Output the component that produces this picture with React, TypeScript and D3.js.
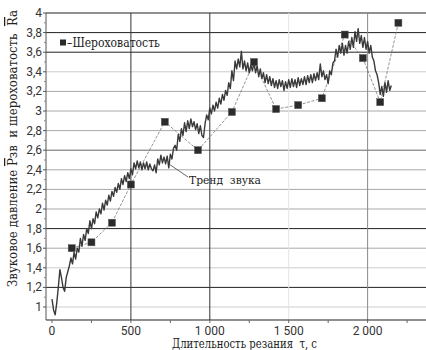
import * as d3 from "d3";

// roughness Ra measurements (t, Ra)
const roughT = [125, 250, 380, 500, 715, 925, 1140, 1280, 1420, 1560, 1710, 1855, 1970, 2080, 2195];
const roughV = [1.6, 1.66, 1.86, 2.25, 2.89, 2.6, 2.99, 3.5, 3.02, 3.06, 3.13, 3.78, 3.54, 3.09, 3.9];

// sound pressure trend (t, value)
const trend: [number, number][] = [
  [0, 1.08], [10, 0.97], [20, 0.92], [30, 1.04], [40, 1.2], [50, 1.38], [60, 1.3], [70, 1.2], [80, 1.16], [90, 1.3],
  [100, 1.36], [110, 1.42], [120, 1.5], [130, 1.44], [140, 1.56], [150, 1.49], [160, 1.6], [170, 1.56], [180, 1.7], [190, 1.62],
  [200, 1.74], [210, 1.68], [220, 1.8], [230, 1.75], [240, 1.88], [250, 1.8], [260, 1.9], [270, 1.85], [280, 1.97], [290, 1.91],
  [300, 2.0], [310, 1.95], [320, 2.06], [330, 1.99], [340, 2.09], [350, 2.04], [360, 2.14], [370, 2.08], [380, 2.18], [390, 2.13],
  [400, 2.22], [410, 2.17], [420, 2.26], [430, 2.2], [440, 2.31], [450, 2.25], [460, 2.34], [470, 2.28], [480, 2.37], [490, 2.31],
  [500, 2.41], [510, 2.35], [520, 2.47], [530, 2.41], [540, 2.49], [550, 2.42], [560, 2.48], [570, 2.4], [580, 2.47], [590, 2.41],
  [600, 2.48], [610, 2.4], [620, 2.46], [630, 2.41], [640, 2.39], [650, 2.45], [660, 2.37], [670, 2.51], [680, 2.45], [690, 2.55],
  [700, 2.47], [710, 2.53], [720, 2.46], [730, 2.54], [740, 2.42], [750, 2.56], [760, 2.51], [770, 2.62], [780, 2.65], [790, 2.6],
  [800, 2.76], [810, 2.69], [820, 2.82], [830, 2.75], [840, 2.88], [850, 2.79], [860, 2.9], [870, 2.82], [880, 2.92], [890, 2.84],
  [900, 2.89], [910, 2.81], [920, 2.87], [930, 2.77], [940, 2.85], [950, 2.75], [960, 2.73], [970, 2.87], [980, 2.96], [990, 2.91],
  [1000, 3.03], [1010, 2.97], [1020, 3.06], [1030, 3.0], [1040, 3.09], [1050, 3.03], [1060, 3.13], [1070, 3.07], [1080, 3.17], [1090, 3.11],
  [1100, 3.21], [1110, 3.16], [1120, 3.29], [1130, 3.23], [1140, 3.41], [1150, 3.31], [1160, 3.51], [1170, 3.43], [1180, 3.53], [1190, 3.45],
  [1200, 3.61], [1210, 3.43], [1220, 3.51], [1230, 3.41], [1240, 3.49], [1250, 3.39], [1260, 3.47], [1270, 3.41], [1280, 3.49], [1290, 3.39],
  [1300, 3.46], [1310, 3.35], [1320, 3.43], [1330, 3.33], [1340, 3.39], [1350, 3.29], [1360, 3.37], [1370, 3.28], [1380, 3.35], [1390, 3.26],
  [1400, 3.33], [1410, 3.24], [1420, 3.31], [1430, 3.23], [1440, 3.32], [1450, 3.25], [1460, 3.31], [1470, 3.21], [1480, 3.3], [1490, 3.23],
  [1500, 3.32], [1510, 3.24], [1520, 3.33], [1530, 3.25], [1540, 3.32], [1550, 3.24], [1560, 3.34], [1570, 3.26], [1580, 3.33], [1590, 3.27],
  [1600, 3.35], [1610, 3.27], [1620, 3.36], [1630, 3.29], [1640, 3.37], [1650, 3.29], [1660, 3.38], [1670, 3.31], [1680, 3.39], [1690, 3.32],
  [1700, 3.48], [1710, 3.35], [1720, 3.41], [1730, 3.32], [1740, 3.37], [1750, 3.28], [1760, 3.41], [1770, 3.37], [1780, 3.49], [1790, 3.51],
  [1800, 3.63], [1810, 3.55], [1820, 3.67], [1830, 3.59], [1840, 3.69], [1850, 3.57], [1860, 3.67], [1870, 3.59], [1880, 3.71], [1890, 3.63],
  [1900, 3.75], [1910, 3.65], [1920, 3.81], [1930, 3.71], [1940, 3.84], [1950, 3.69], [1960, 3.77], [1970, 3.65], [1980, 3.75], [1990, 3.63],
  [2000, 3.71], [2010, 3.59], [2020, 3.67], [2030, 3.55], [2040, 3.51], [2050, 3.41], [2060, 3.37], [2070, 3.29], [2080, 3.17], [2090, 3.25],
  [2100, 3.15], [2110, 3.29], [2120, 3.19], [2130, 3.31], [2140, 3.21], [2150, 3.26],
];

const yTicks = [1, 1.2, 1.4, 1.6, 1.8, 2, 2.2, 2.4, 2.6, 2.8, 3, 3.2, 3.4, 3.6, 3.8, 4];
const xTicks = [0, 500, 1000, 1500, 2000];
const xMinor = [250, 750, 1250, 1750, 2250];

// grid shades as they come out in the picture
const hGridColor = (v: number) => {
  const k = Math.round(v * 10);
  if (k === 38 || k === 36 || k === 40 || k === 12 || k === 18) return "#222";
  if (k === 26) return "#666";
  if (k === 10 || k === 14 || k === 34) return "#ccc";
  return "#a8a8a8";
};
const vGridColor = (t: number) => (t === 1500 ? "#e4e4e4" : t === 2000 ? "#888" : t === 0 ? "none" : "#333");

const W = 426, H = 350;
const left = 46, right = 426, top = 13, bottom = 320;
const SANS = "Roboto";
const SERIF = "DejaVu Serif";

const fmt = (v: number) => String(v).replace(".", ",");
const fmtX = (t: number) => (t >= 1000 ? `${Math.floor(t / 1000)} ${String(t % 1000).padStart(3, "0")}` : String(t));

export default function App() {
  const x = d3.scaleLinear().domain([-38, 2370]).range([left, right]);
  const y = d3.scaleLinear().domain([1, 4]).range([307, top]);

  const trendLine = d3.line<[number, number]>().x(d => x(d[0])).y(d => y(d[1]));
  const roughLine = d3.line<number>().x((_, i) => x(roughT[i])).y(v => y(v));

  return (
    <svg width={W} height={H} style={{ position: "absolute", left: 0, top: 0, background: "#fff" }}>
      {/* horizontal grid */}
      {yTicks.map(v => (
        <line key={"h" + v} x1={left} x2={right} y1={y(v)} y2={y(v)} stroke={hGridColor(v)} strokeWidth={v === 4 ? 1.2 : 1} />
      ))}
      {/* vertical grid */}
      {xTicks.map(t => (
        <line key={"v" + t} x1={x(t)} x2={x(t)} y1={top} y2={bottom} stroke={vGridColor(t)} strokeWidth={1} />
      ))}

      {/* axes */}
      <line x1={left} x2={left} y1={top} y2={bottom} stroke="#555" />
      <line x1={left} x2={right} y1={bottom} y2={bottom} stroke="#222" strokeWidth={1.2} />
      {yTicks.map(v => (
        <line key={"yt" + v} x1={left - 3} x2={left} y1={y(v)} y2={y(v)} stroke="#555" />
      ))}
      {yTicks.slice(0, -1).map(v => (
        <line key={"ym" + v} x1={left - 2} x2={left} y1={y(v + 0.1)} y2={y(v + 0.1)} stroke="#888" />
      ))}
      {yTicks.map(v => (
        <text key={"yl" + v} x={left - 4} y={y(v) + 4} textAnchor="end" fontFamily={SANS} fontSize={12} fill="#333">
          {fmt(v)}
        </text>
      ))}
      {[...xTicks, ...xMinor].map(t => (
        <line key={"xt" + t} x1={x(t)} x2={x(t)} y1={bottom} y2={bottom + 3} stroke="#666" />
      ))}
      {xTicks.map(t => (
        <text key={"xl" + t} x={x(t)} y={bottom + 15} textAnchor="middle" fontFamily={SANS} fontSize={12} fill="#333">
          {fmtX(t)}
        </text>
      ))}

      {/* roughness connecting line */}
      <path d={roughLine(roughV) || ""} fill="none" stroke="#777" strokeWidth={0.8} strokeDasharray="3,1.5" />

      {/* sound trend */}
      <path d={trendLine(trend) || ""} fill="none" stroke="#3a3a3a" strokeWidth={1.4} strokeLinejoin="round" />

      {/* roughness squares */}
      {roughV.map((v, i) => (
        <rect key={"r" + i} x={x(roughT[i]) - 3.5} y={y(v) - 3.5} width={7} height={7} fill="#2b2b2b" stroke="#555" strokeWidth={0.5} />
      ))}

      {/* trend label */}
      <line x1={x(740)} y1={y(2.46)} x2={188} y2={177} stroke="#444" strokeWidth={0.8} />
      <text x={189} y={184} fontFamily={SERIF} fontSize={11.5} fill="#222" textLength={72} lengthAdjust="spacingAndGlyphs" style={{ whiteSpace: "pre" }}>
        Тренд  звука
      </text>

      {/* legend */}
      <rect x={60} y={39.5} width={6} height={6} fill="#2b2b2b" />
      <text x={67} y={47} fontFamily={SERIF} fontSize={12} fill="#222" textLength={93} lengthAdjust="spacingAndGlyphs">
        –Шероховатость
      </text>

      {/* axis titles */}
      <text x={172} y={348} fontFamily={SERIF} fontSize={12} fill="#222" textLength={145} lengthAdjust="spacingAndGlyphs" style={{ whiteSpace: "pre" }}>
        Длительность резания  τ, с
      </text>
      <text transform="translate(17,287) rotate(-90)" fontFamily={SERIF} fontSize={12.5} fill="#222" textLength={277} lengthAdjust="spacingAndGlyphs" style={{ whiteSpace: "pre" }}>
        Звуковое давление <tspan textDecoration="overline">Р</tspan>зв  и шероховатость  <tspan textDecoration="overline">R</tspan>a
      </text>
    </svg>
  );
}
